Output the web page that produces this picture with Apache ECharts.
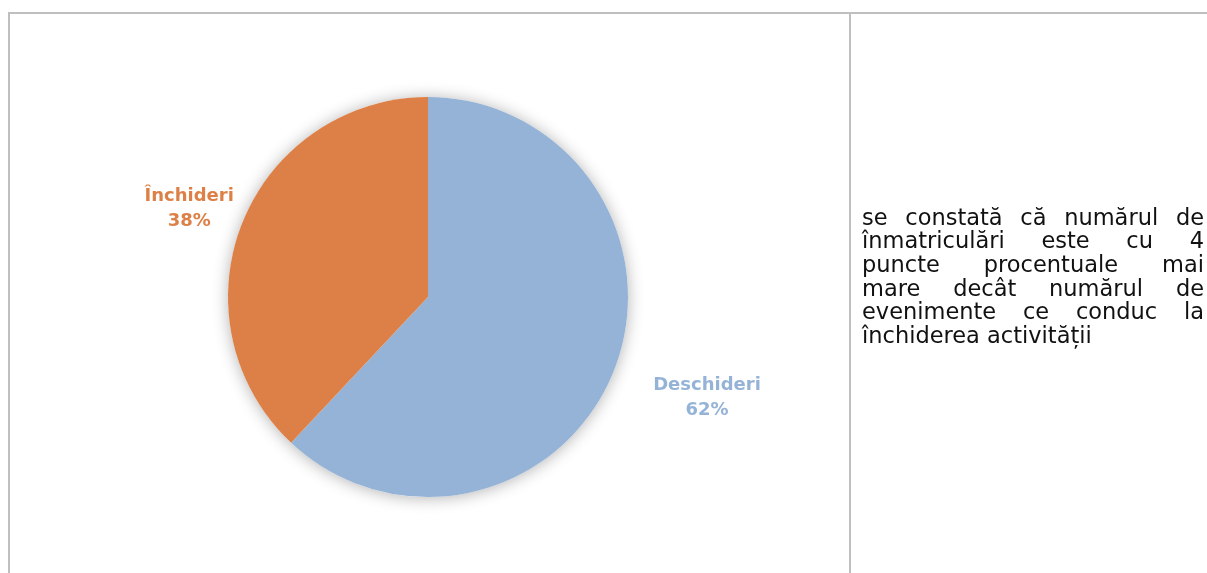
<!DOCTYPE html>
<html>
<head>
<meta charset="utf-8">
<script src="https://cdn.jsdelivr.net/npm/echarts@6/dist/echarts.min.js"></script>
<style>
  html, body { margin: 0; padding: 0; background: #ffffff; }
  #chart { width: 1207px; height: 573px; }
</style>
</head>
<body>
<div id="chart"></div>
<script>
// Share of business events
const categories = ['Deschideri', 'Închideri'];
const values = [62, 38];
const sliceColors = ['#95B3D7', '#DD8047'];

// Commentary shown in the right-hand cell, one entry per printed line
const noteLines = [
  'se constată că numărul de',
  'înmatriculări este cu 4',
  'puncte procentuale mai',
  'mare decât numărul de',
  'evenimente ce conduc la',
  'închiderea activității'
];

const chart = echarts.init(document.getElementById('chart'), null, { renderer: 'canvas' });

// Table frame
const frameColor = '#BFBFBF';
const frame = [
  { type: 'line', shape: { x1: 8, y1: 13, x2: 1207, y2: 13 }, style: { stroke: frameColor, lineWidth: 2 } },
  { type: 'line', shape: { x1: 9, y1: 13, x2: 9, y2: 573 }, style: { stroke: frameColor, lineWidth: 2 } },
  { type: 'line', shape: { x1: 850, y1: 13, x2: 850, y2: 573 }, style: { stroke: frameColor, lineWidth: 2 } }
];

// Justified paragraph: every line but the last is stretched to the cell width
const noteFamily = '"DejaVu Sans", Verdana, sans-serif';
const noteSize = 22.5;
const measureCtx = document.createElement('canvas').getContext('2d');
measureCtx.font = noteSize + 'px ' + noteFamily;
const noteLeft = 862, noteRight = 1204, noteTop = 219, lineGap = 23.6;
const noteGraphics = [];
noteLines.forEach((line, i) => {
  const words = line.split(' ');
  const y = noteTop + i * lineGap;
  const isLast = i === noteLines.length - 1;
  const widths = words.map(w => measureCtx.measureText(w).width);
  const total = widths.reduce((a, b) => a + b, 0);
  const gap = isLast ? measureCtx.measureText(' ').width : (noteRight - noteLeft - total) / (words.length - 1);
  let x = noteLeft;
  words.forEach((w, j) => {
    noteGraphics.push({
      type: 'text', x: x, y: y, silent: true,
      style: { text: w, fontSize: noteSize, fontFamily: noteFamily, fill: '#111111', verticalAlign: 'middle', align: 'left' }
    });
    x += widths[j] + gap;
  });
});

const labelFont = { fontFamily: '"DejaVu Sans", sans-serif', fontWeight: 'bold', fontSize: 18, lineHeight: 25 };
const pieCenter = [428, 297];
const pieRadius = 200;
const total = values.reduce((a, b) => a + b, 0);

const option = {
  animation: false,
  backgroundColor: '#ffffff',
  graphic: { elements: frame.concat(noteGraphics) },
  series: [
    // soft halo under the whole disc, so slices do not shade each other
    {
      type: 'pie',
      center: pieCenter,
      radius: pieRadius,
      silent: true,
      emphasis: { disabled: true },
      label: { show: false },
      labelLine: { show: false },
      itemStyle: { color: '#ffffff', shadowBlur: 16, shadowOffsetY: 1, shadowColor: 'rgba(0,0,0,0.30)' },
      data: [{ name: 'halo', value: total }]
    },
    {
      type: 'pie',
      center: pieCenter,
      radius: pieRadius,
      startAngle: 90,
      clockwise: true,
      silent: true,
      emphasis: { disabled: true },
      itemStyle: { borderWidth: 0 },
      label: {
        show: true,
        position: 'outside',
        formatter: '{n|{b}}\n{p|{d}%}',
        rich: {
          n: Object.assign({ align: 'center' }, labelFont),
          p: Object.assign({ align: 'center' }, labelFont)
        }
      },
      labelLine: { show: false, length: 40, length2: 0 },
      labelLayout: function (params) {
        return params.dataIndex === 1 ? { dx: 34, dy: 0 } : { dx: -3, dy: 12 };
      },
      data: categories.map((name, i) => ({
        name: name,
        value: values[i],
        itemStyle: { color: sliceColors[i] },
        label: { color: sliceColors[i] }
      }))
    }
  ]
};

chart.setOption(option);
</script>
</body>
</html>
